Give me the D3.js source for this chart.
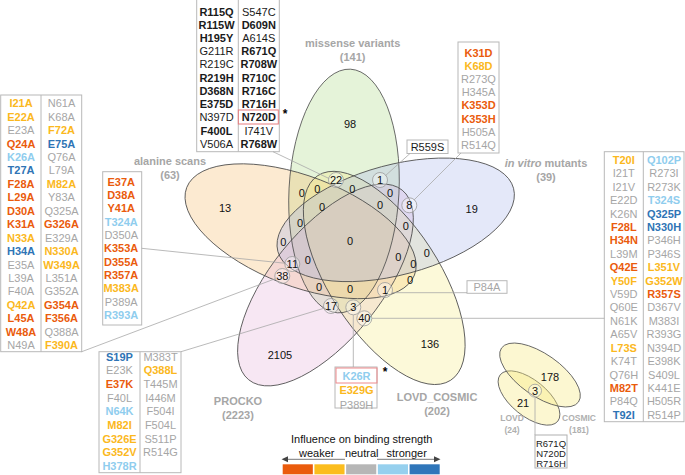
<!DOCTYPE html>
<html><head><meta charset="utf-8">
<script src="https://cdn.jsdelivr.net/npm/d3@7"></script>
<style>body{margin:0;background:#fff} svg{display:block;font-family:"Liberation Sans",Arial,Helvetica,sans-serif}</style>
</head><body><svg id="c" width="685" height="475"></svg>
<script>
// ---------------- DATA ----------------
const setNames = ["missense variants","alanine scans","PROCKO","LOVD_COSMIC","in vitro mutants"];
const setSizes = [141, 63, 2223, 202, 39];
const singleCounts = [98, 13, 2105, 136, 19];
const markedCounts = [22, 1, 8, 11, 38, 17, 3, 40, 1];
const emptyCounts = [0,0,0,0,0,0,0,0,0,0,0,0,0,0,0,0,0];
const smallSets = ["LOVD","COSMIC"];
const smallSizes = [24, 181];
const smallCounts = [21, 178, 3];
const legendLevels = ["W","w","n","s","S"];
const legendWords = ["weaker","neutral","stronger"];
// mutation lists (code: W strongly weaker, w weaker, n neutral, s stronger, S strongly stronger, b bold black, k black)
const topCol1 = "R115Q:b R115W:b H195Y:b G211R:k R219C:k R219H:b D368N:b E375D:b N397D:k F400L:b V506A:k";
const topCol2 = "S547C:k D609N:b A614S:k R671Q:b R708W:b R710C:b R716C:b R716H:b N720D:b I741V:k R768W:b";
const leftCol1 = "I21A:w E22A:w E23A:n Q24A:W K26A:s T27A:S F28A:W L29A:W D30A:W K31A:W N33A:w H34A:S E35A:n L39A:n F40A:n Q42A:w L45A:W W48A:W N49A:n";
const leftCol2 = "N61A:n K68A:n F72A:w E75A:S Q76A:n L79A:n M82A:w Y83A:n Q325A:n G326A:W E329A:n N330A:w W349A:w L351A:n G352A:n G354A:W F356A:W Q388A:n F390A:w";
const alaList = "E37A:W D38A:W Y41A:W T324A:s D350A:n K353A:W D355A:W R357A:W M383A:w P389A:n R393A:s";
const vitroList = "K31D:W K68D:w R273Q:n H345A:n K353D:W K353H:W H505A:n R514Q:n";
const prockoCol1 = "S19P:S E23K:n E37K:W F40L:n N64K:s M82I:w G326E:w G352V:w H378R:s";
const prockoCol2 = "M383T:n Q388L:w T445M:n I446M:n F504I:n F504L:n S511P:n R514G:n";
const rightCol1 = "T20I:w I21T:n I21V:n E22D:n K26N:n F28L:W H34N:W L39M:n Q42E:W Y50F:w V59D:n Q60E:n N61K:n A65V:n L73S:w K74T:n Q76H:n M82T:W P84Q:n T92I:S";
const rightCol2 = "Q102P:s R273I:n R273K:n T324S:s Q325P:S N330H:S P346H:n P346S:n L351V:w G352W:w R357S:W D367V:n M383I:n R393G:n N394D:n E398K:n S409L:n K441E:n H505R:n R514P:n";
const tripleList = "K26R:s E329G:w P389H:n";
const r559List = "R559S:k";
const p84List = "P84A:n";
const smallList = "R671Q:k N720D:k R716H:k";

// ---------------- LAYOUT ----------------
const svg = d3.select("#c");
const colorOf = d3.scaleOrdinal().domain(["W","w","n","s","S","b","k"])
  .range(["#ea5b0c","#fbb81d","#a6a6a6","#8fcdee","#2e74b5","#1a1a1a","#1a1a1a"]);
const weightOf = c => (c==="n"||c==="k") ? "normal" : "bold";
const parse = s => s.split(" ").map(t => { const [n,c] = t.split(":"); return {n, c}; });

const O = [350, 241];
const baseEll = {cx:344, cy:191, rx:55, ry:122, tilt:3};
const ellFill = ["#a8d880","#f4b866","#e6b0d8","#f6ea80","#a4b2ea"];
const catPos = [[352.7,43.3],[170,161.5],[238,401.5],[437,397],[546,163]];
const singlePos = [[350,124.3],[225,207.7],[280,355],[430,344],[471.7,209.3]];
const markedPos = [[336,180],[380,180],[409.3,205.3],[292.3,264],[282.3,276],[331,306],[353.3,307.3],[364.3,318.3],[385,290]];
const emptyPos = [[301.7,192.7],[317.3,189.3],[352.3,189.3],[390,192.7],[322,207.3],[380,205.3],[405.7,226],[300,223.3],[283.3,241.7],[350,240.7],[426.7,253.3],[398.3,257.3],[413.3,264],[410,280],[307.7,260],[319,287.3],[350,289]];

function rect(x0,y0,x1,y1,stroke){
  svg.append("rect").attr("x",x0).attr("y",y0).attr("width",x1-x0).attr("height",y1-y0)
    .attr("fill","none").attr("stroke",stroke||"#b8b8b8").attr("stroke-width",1);
}
function vline(x,y0,y1){ svg.append("line").attr("x1",x).attr("x2",x).attr("y1",y0).attr("y2",y1).attr("stroke","#b8b8b8"); }
function drawCol(str, cx, y0, step, size){
  const items = parse(str);
  const y = d3.scaleLinear().domain([0,1]).range([y0, y0+step]);
  svg.append("g").selectAll("text").data(items).join("text")
    .attr("x", cx).attr("y", (d,i) => y(i)).attr("dy","0.35em").attr("text-anchor","middle")
    .attr("font-size", size||11).attr("font-weight", d => weightOf(d.c)).attr("fill", d => colorOf(d.c))
    .text(d => d.n);
}
function leader(pts){
  svg.append("path").attr("d", d3.line()(pts)).attr("fill","none").attr("stroke","#a8a8a8").attr("stroke-width",0.8);
}

// ---------------- VENN ----------------
const ellT = k => `rotate(${-72*k},${O[0]},${O[1]}) rotate(${baseEll.tilt},${baseEll.cx},${baseEll.cy})`;
const vg = svg.append("g");
vg.selectAll("ellipse.f").data(setNames).join("ellipse").attr("class","f")
  .attr("cx",baseEll.cx).attr("cy",baseEll.cy).attr("rx",baseEll.rx).attr("ry",baseEll.ry)
  .attr("transform",(d,k)=>ellT(k))
  .attr("fill",(d,k)=>ellFill[k]).attr("fill-opacity",0.3);
vg.selectAll("ellipse.o").data(setNames).join("ellipse").attr("class","o")
  .attr("cx",baseEll.cx).attr("cy",baseEll.cy).attr("rx",baseEll.rx).attr("ry",baseEll.ry)
  .attr("transform",(d,k)=>ellT(k))
  .attr("fill","none").attr("stroke","#4a4a4a").attr("stroke-width",0.8);

setNames.forEach((name,k)=>{
  const t = svg.append("text").attr("x",catPos[k][0]).attr("y",catPos[k][1]).attr("dy","0.35em")
    .attr("text-anchor","middle").attr("font-size",11).attr("font-weight","bold").attr("fill","#a6a6a6");
  if (name.startsWith("in vitro")) {
    t.append("tspan").attr("font-style","italic").text("in vitro");
    t.append("tspan").text(name.slice(8));
  } else t.text(name);
  svg.append("text").attr("x",catPos[k][0]).attr("y",catPos[k][1]+14).attr("dy","0.35em")
    .attr("text-anchor","middle").attr("font-size",11).attr("font-weight","bold").attr("fill","#a6a6a6")
    .text("(" + setSizes[k] + ")");
});

// ---------------- BOXES ----------------
rect(196.7,-1,279.3,151.7); vline(238.3,-1,151.7);
drawCol(topCol1, 216.5, 11.7, 13.23); drawCol(topCol2, 258.8, 11.7, 13.23);
rect(238.3,110,278.3,124,"#e77c7e");
svg.append("text").attr("x",285).attr("y",118).attr("text-anchor","middle").attr("font-size",12).attr("font-weight","bold").text("*");
rect(0.7,95,81.7,351.7); vline(41,95,351.7);
drawCol(leftCol1, 21, 103.3, 13.45); drawCol(leftCol2, 61.5, 103.3, 13.45);
rect(102.7,171.7,141.7,325);
drawCol(alaList, 121.2, 181.7, 13.33);
rect(458,42,499,153);
drawCol(vitroList, 478.5, 52.7, 13.23);
rect(407,140,448,153.5); drawCol(r559List, 427.5, 147, 13);
rect(467,280.7,507,293.3); drawCol(p84List, 487, 287, 13);
rect(99,351.7,181,472.7); vline(140,351.7,472.7);
drawCol(prockoCol1, 119.5, 356.7, 13.66); drawCol(prockoCol2, 160.5, 356.7, 13.66);
rect(604.3,151.7,684,421.7); vline(643.3,151.7,421.7);
drawCol(rightCol1, 623.8, 160, 13.42); drawCol(rightCol2, 664, 160, 13.42);
rect(335,367,377,408); rect(336,368,377,383,"#ee8a8c");
drawCol(tripleList, 356.5, 376, 14.5);
svg.append("text").attr("x",385).attr("y",376).attr("text-anchor","middle").attr("font-size",12).attr("font-weight","bold").text("*");

leader([[273,151.7],[329,178.5]]);
leader([[410,153.5],[385,176]]);
leader([[461,153],[414,200]]);
leader([[141.7,248.3],[284.5,263.2]]);
leader([[81.7,351.7],[275,278.8]]);
leader([[181,351.7],[323.8,308.3]]);
leader([[353.3,367],[353.3,315]]);
leader([[467,292.7],[392,292.7]]);
leader([[604.3,318.3],[372,318.3]]);

const numG = svg.append("g").attr("font-size",11).attr("fill","#111").attr("text-anchor","middle");
numG.selectAll("circle").data(markedCounts).join("circle")
  .attr("cx",(d,i)=>markedPos[i][0]).attr("cy",(d,i)=>markedPos[i][1]).attr("r",7.5)
  .attr("fill","#ffffff").attr("fill-opacity",0.35).attr("stroke","#9a9a9a").attr("stroke-width",0.8);
numG.selectAll("text.m").data(markedCounts).join("text").attr("class","m")
  .attr("x",(d,i)=>markedPos[i][0]).attr("y",(d,i)=>markedPos[i][1]).attr("dy","0.35em").text(d=>d);
numG.selectAll("text.s").data(singleCounts).join("text").attr("class","s")
  .attr("x",(d,i)=>singlePos[i][0]).attr("y",(d,i)=>singlePos[i][1]).attr("dy","0.35em").text(d=>d);
numG.selectAll("text.e").data(emptyCounts).join("text").attr("class","e")
  .attr("x",(d,i)=>emptyPos[i][0]).attr("y",(d,i)=>emptyPos[i][1]).attr("dy","0.35em").text(d=>d);

// ---------------- SMALL VENN ----------------
const smallEll = [{cx:529,cy:398,rx:37,ry:18,rot:39},{cx:540,cy:375,rx:47,ry:21,rot:35}];
const sg = svg.append("g");
sg.selectAll("ellipse.f").data(smallSets).join("ellipse").attr("class","f")
  .attr("cx",(d,i)=>smallEll[i].cx).attr("cy",(d,i)=>smallEll[i].cy)
  .attr("rx",(d,i)=>smallEll[i].rx).attr("ry",(d,i)=>smallEll[i].ry)
  .attr("transform",(d,i)=>`rotate(${smallEll[i].rot},${smallEll[i].cx},${smallEll[i].cy})`)
  .attr("fill","#f7e77a").attr("fill-opacity",0.35).attr("stroke","#555").attr("stroke-width",0.8);
leader([[535,398],[535,435]]);
sg.append("circle").attr("cx",535).attr("cy",390.7).attr("r",6.5).attr("fill","#fff").attr("fill-opacity",0.35).attr("stroke","#9a9a9a").attr("stroke-width",0.8);
const smallNumPos = [[523,402.7],[550,376.7],[535,390.7]];
sg.selectAll("text.n").data(smallCounts).join("text").attr("class","n")
  .attr("x",(d,i)=>smallNumPos[i][0]).attr("y",(d,i)=>smallNumPos[i][1]).attr("dy","0.35em")
  .attr("text-anchor","middle").attr("font-size",11).attr("fill","#111").text(d=>d);
const smallLabPos = [[512,418],[579,418]];
smallSets.forEach((s,i)=>{
  sg.append("text").attr("x",smallLabPos[i][0]).attr("y",smallLabPos[i][1]).attr("dy","0.35em").attr("text-anchor","middle")
    .attr("font-size",8.5).attr("font-weight","bold").attr("fill","#b0b0b0").text(s);
  sg.append("text").attr("x",smallLabPos[i][0]).attr("y",smallLabPos[i][1]+12).attr("dy","0.35em").attr("text-anchor","middle")
    .attr("font-size",8.5).attr("font-weight","bold").attr("fill","#b0b0b0").text("("+smallSizes[i]+")");
});
rect(535,435,567,468,"#b0b0b0");
drawCol(smallList, 551, 443.3, 10, 9.5);

// ---------------- LEGEND ----------------
const lx = d3.scaleBand().domain(legendLevels).range([282.7,439.7]).paddingInner(0.05);
svg.append("g").selectAll("rect").data(legendLevels).join("rect")
  .attr("x",d=>lx(d)).attr("y",464.3).attr("width",lx.bandwidth()).attr("height",10)
  .attr("fill",d=>({W:"#ea5b0c",w:"#fbbd1e",n:"#b6b6b6",s:"#96d0ee",S:"#2f76ba"})[d]);
svg.append("text").attr("x",361.7).attr("y",439.3).attr("dy","0.35em").attr("text-anchor","middle").attr("font-size",11).attr("fill","#111").text("Influence on binding strength");
const wx = d3.scalePoint().domain(legendWords).range([316.7,406.7]);
svg.selectAll("text.lw").data(legendWords).join("text").attr("class","lw")
  .attr("x",d=>wx(d)).attr("y",452.7).attr("dy","0.35em").attr("text-anchor","middle").attr("font-size",11).attr("fill","#111").text(d=>d);
svg.append("path").attr("d","M285,459.3H345M377,459.3H436").attr("stroke","#777").attr("stroke-width",1);
svg.append("path").attr("d","M281.5,459.3L288,456.3L288,462.3Z M440.5,459.3L434,456.3L434,462.3Z").attr("fill","#444");
</script></body></html>
